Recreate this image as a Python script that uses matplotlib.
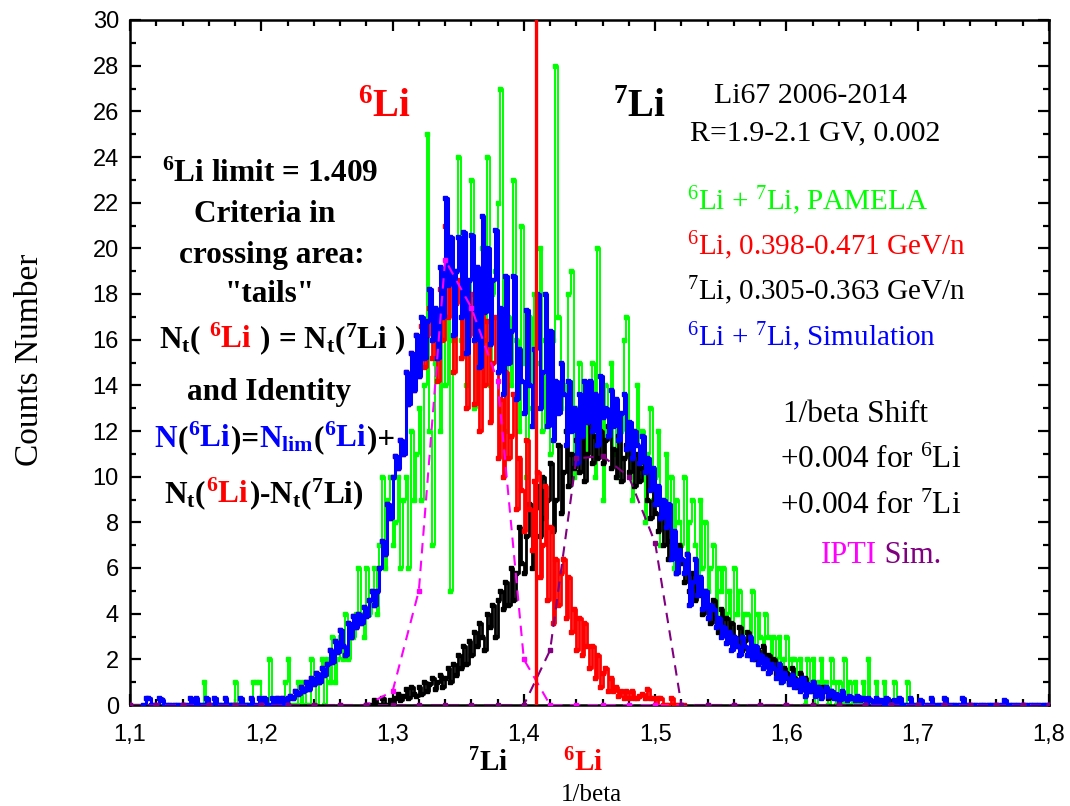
import numpy as np
import matplotlib
matplotlib.use("Agg")
import matplotlib.pyplot as plt
from matplotlib.ticker import MultipleLocator, FuncFormatter
from matplotlib.transforms import IdentityTransform

plt.rcParams['mathtext.fontset'] = 'custom'
plt.rcParams['mathtext.rm'] = 'Liberation Serif'
plt.rcParams['mathtext.default'] = 'regular'

# ---- data: counts per 1/beta bin (bin width 0.002) ----
bin_w = 0.002

green_start = 1.150   # 6Li + 7Li, PAMELA
green_counts = [
    0, 0, 0, 1, 0, 0, 0, 0, 0, 0,
    0, 0, 0, 0, 0, 1, 0, 0, 0, 0,
    0, 0, 1, 1, 1, 0, 0, 0, 2, 0,
    0, 0, 0, 0, 1, 2, 0, 0, 0, 1,
    0, 1, 0, 0, 2, 1, 0, 1, 2, 0,
    2, 1, 3, 1, 2, 3, 2, 4, 2, 3,
    3, 4, 6, 4, 3, 6, 4, 5, 6, 4,
    7, 10, 6, 9, 10, 7, 8, 10, 6, 9,
    10, 6, 12, 9, 11, 13, 9, 14, 25, 12,
    7, 15, 16, 12, 18, 14, 17, 5, 16, 19,
    24, 16, 19, 14, 17, 23, 13, 18, 15, 20,
    16, 24, 14, 18, 19, 22, 27, 15, 12, 17,
    14, 23, 16, 12, 21, 15, 10, 17, 13, 18,
    15, 20, 12, 16, 14, 11, 16, 28, 17, 13,
    14, 12, 18, 19, 10, 13, 15, 12, 11, 14,
    12, 15, 10, 20, 13, 9, 14, 12, 15, 11,
    13, 10, 12, 16, 17, 11, 9, 12, 14, 10,
    12, 8, 11, 13, 9, 10, 12, 7, 9, 11,
    8, 10, 6, 9, 8, 7, 10, 6, 8, 9,
    7, 5, 9, 6, 8, 5, 6, 7, 4, 6,
    5, 6, 4, 5, 3, 6, 4, 5, 3, 4,
    4, 3, 5, 2, 4, 3, 2, 4, 3, 2,
    3, 2, 3, 1, 2, 3, 1, 2, 2, 1,
    2, 1, 0, 2, 1, 2, 0, 1, 2, 1,
    1, 0, 2, 1, 0, 1, 0, 2, 0, 1,
    0, 1, 0, 0, 1, 0, 2, 0, 0, 1,
    0, 0, 1, 0, 0, 0, 1, 0, 0, 0,
    0, 1, 0, 0, 0,
]

red_start = 1.210     # 6Li simulation
red_counts = [
    0, 0.3, 0, 0.3, 0, 0.3, 0.4, 0.3, 0.6, 0.5,
    0.8, 0.6, 1.0, 0.7, 1.2, 0.9, 1.4, 1.0, 1.6, 1.3,
    1.8, 2.4, 1.9, 2.8, 2.3, 3.3, 2.6, 2.2, 3.6, 3.0,
    3.9, 3.4, 4.0, 3.6, 4.3, 3.9, 4.6, 5.0, 4.4, 5.0,
    6.0, 7.2, 6.6, 8.8, 8.2, 10.0, 10.9, 10.4, 11.6, 11.0,
    14.6, 13.2, 15.4, 13.8, 16.2, 14.4, 16.6, 14.8, 16.2, 17.4,
    15.2, 16.6, 14.2, 18.2, 16.0, 21.0, 17.0, 19.0, 14.6, 17.6,
    18.6, 15.2, 18.5, 13.0, 16.2, 18.0, 13.2, 16.4, 12.0, 18.0,
    14.0, 16.8, 12.4, 15.0, 17.0, 10.8, 13.4, 10.0, 14.6, 10.8,
    11.8, 13.6, 8.6, 10.8, 9.4, 7.6, 11.6, 8.6, 6.8, 9.8,
    10.2, 5.6, 7.0, 9.6, 4.6, 7.8, 3.6, 6.4, 4.4, 5.8,
    6.4, 3.8, 5.6, 3.2, 4.2, 2.4, 3.8, 2.2, 3.6, 2.6,
    1.6, 2.6, 1.2, 2.2, 0.8, 1.4, 1.6, 0.6, 1.2, 0.6,
    0.8, 0.4, 0.6, 0.3, 0.6, 0.3, 0.6, 0.3, 0.3, 0.4,
    0.5, 0.3, 0.7, 0.3, 0.3, 0, 0.3, 0.3, 0, 0,
    0, 0.3, 0, 0, 0, 0,
]

black_start = 1.280   # 7Li simulation
black_counts = [
    0, 0, 0, 0.2, 0, 0, 0.3, 0, 0, 0.2,
    0, 0.3, 0.5, 0.2, 0.4, 0.7, 0.3, 0.8, 0.5, 0.4,
    0.8, 0.5, 1.0, 0.6, 0.9, 1.2, 0.7, 1.0, 1.3, 0.8,
    1.2, 1.6, 1.0, 1.8, 1.3, 2.2, 1.6, 2.6, 1.8, 2.8,
    2.2, 3.2, 2.6, 3.6, 3.0, 2.4, 4.0, 3.4, 4.4, 3.0,
    4.6, 5.0, 4.2, 5.4, 4.4, 6.0, 4.6, 5.8, 7.8, 6.2,
    5.8, 7.4, 8.8, 6.0, 8.6, 9.6, 7.4, 10.0, 8.2, 9.0,
    10.6, 7.6, 9.0, 11.4, 8.4, 10.2, 12.0, 9.6, 11.0, 10.4,
    11.6, 10.2, 12.2, 9.8, 11.0, 12.4, 10.6, 11.8, 10.8, 12.0,
    10.6, 11.6, 12.2, 10.4, 11.2, 10.0, 11.8, 9.8, 10.8, 11.4,
    10.2, 10.8, 9.6, 11.0, 9.8, 10.4, 10.6, 9.0, 8.2, 9.6,
    8.4, 7.6, 8.8, 7.0, 7.8, 6.4, 7.2, 6.6, 5.8, 7.0,
    6.2, 5.4, 6.6, 5.0, 5.8, 4.6, 5.2, 4.8, 4.0, 5.0,
    4.4, 3.6, 4.6, 3.8, 3.2, 4.2, 3.4, 3.8, 2.8, 3.6,
    3.0, 2.6, 3.4, 2.4, 2.8, 3.2, 2.2, 2.6, 2.0, 2.4,
    2.0, 2.6, 1.8, 2.2, 1.6, 2.0, 1.4, 1.8, 1.2, 1.6,
    1.4, 1.0, 1.6, 1.2, 0.8, 1.4, 1.0, 1.2, 0.8, 0.6,
    1.0, 0.6, 0.8, 0.4, 0.8, 0.6, 0.3, 0.6, 0.4, 0.3,
]

blue_start = 1.110    # 6Li + 7Li simulation
blue_counts = [
    0, 0.3, 0.3, 0, 0, 0, 0.3, 0.2, 0, 0,
    0, 0, 0, 0, 0, 0, 0, 0, 0.3, 0,
    0.3, 0, 0, 0, 0.3, 0, 0, 0.3, 0, 0,
    0, 0.3, 0, 0, 0, 0, 0, 0.3, 0, 0,
    0, 0.3, 0, 0, 0.3, 0, 0.3, 0, 0, 0.3,
    0, 0.3, 0, 0.3, 0, 0.3, 0.4, 0.3, 0.6, 0.5,
    0.8, 0.6, 1.0, 0.7, 1.2, 0.9, 1.4, 1.0, 1.6, 1.3,
    1.8, 2.4, 1.9, 2.8, 2.3, 3.3, 2.6, 2.2, 3.6, 3.0,
    3.9, 3.4, 4.0, 3.6, 4.3, 3.9, 4.6, 5.0, 4.4, 5.0,
    6.0, 7.2, 6.6, 8.8, 8.2, 10.0, 10.9, 10.4, 11.6, 11.0,
    14.6, 13.2, 15.4, 13.8, 16.2, 14.4, 17.0, 15.2, 16.8, 18.2,
    16.0, 17.4, 15.2, 19.2, 17.0, 22.2, 18.4, 20.5, 16.2, 19.0,
    20.5, 17.0, 20.7, 15.4, 18.6, 20.6, 16.0, 19.2, 14.8, 21.4,
    17.2, 20.0, 15.8, 18.6, 20.8, 14.6, 17.4, 13.6, 18.8, 15.0,
    16.4, 18.8, 13.4, 15.6, 14.2, 12.8, 17.3, 14.0, 12.2, 15.6,
    18.0, 13.0, 14.6, 18.0, 12.2, 16.4, 11.6, 14.2, 12.8, 15.0,
    13.6, 11.4, 14.2, 12.0, 13.0, 10.6, 13.6, 11.8, 14.2, 12.4,
    14.2, 12.0, 13.6, 11.4, 14.4, 12.6, 13.0, 11.8, 13.8, 12.2,
    13.4, 11.6, 12.8, 13.6, 11.2, 12.4, 10.8, 12.0, 11.4, 10.6,
    11.8, 10.2, 10.8, 9.4, 10.4, 8.8, 9.6, 8.2, 9.0, 7.8,
    8.8, 6.4, 7.6, 5.8, 6.8, 6.4, 5.8, 6.6, 4.4, 5.4,
    6.4, 4.8, 5.6, 4.2, 5.0, 3.8, 4.4, 4.2, 3.4, 3.8,
    3.0, 3.4, 2.7, 3.2, 2.4, 3.0, 2.6, 2.2, 3.0, 2.6,
    2.2, 3.0, 2.0, 2.6, 1.8, 2.2, 1.6, 2.0, 1.4, 1.8,
    1.6, 1.2, 1.8, 1.0, 1.4, 1.2, 0.9, 1.3, 0.8, 1.1,
    0.6, 1.2, 0.4, 0.9, 0.6, 1.0, 0.4, 0.8, 0.3, 0.6,
    0.8, 0.4, 0.6, 0.3, 0.5, 0.2, 0.6, 0.3, 0.2, 0.4,
    0.3, 0.2, 0.4, 0.2, 0.3, 0, 0.3, 0.2, 0, 0.3,
    0, 0.2, 0, 0.3, 0, 0, 0.2, 0, 0.3, 0,
    0, 0, 0.3, 0, 0, 0, 0.2, 0, 0, 0,
    0.3, 0, 0, 0, 0, 0.3, 0, 0, 0, 0,
    0, 0, 0.3, 0, 0, 0, 0, 0, 0, 0,
    0, 0, 0, 0, 0, 0, 0, 0, 0.2, 0,
    0, 0, 0, 0, 0, 0, 0, 0, 0, 0,
    0, 0, 0, 0, 0,
]

# IPTI simulation curves (points every 0.02)
ipti_x = [1.10, 1.12, 1.14, 1.16, 1.18, 1.20, 1.22, 1.24, 1.26, 1.28,
          1.30, 1.32, 1.34, 1.36, 1.38, 1.40, 1.42, 1.44, 1.46, 1.48,
          1.50, 1.52, 1.54, 1.56, 1.58, 1.60, 1.62, 1.64, 1.66, 1.68,
          1.70, 1.72, 1.74, 1.76, 1.78, 1.80]
ipti_li6 = [0, 0, 0, 0, 0, 0, 0, 0, 0, 0,
            0.6, 5.0, 19.5, 17.4, 14.2, 2.0, 0, 0, 0, 0,
            0, 0, 0, 0, 0, 0, 0, 0, 0, 0,
            0, 0, 0, 0, 0, 0]
ipti_li7 = [0, 0, 0, 0, 0, 0, 0, 0, 0, 0,
            0, 0, 0, 0, 0, 0, 2.4, 10.8, 10.9, 10.0,
            7.1, 0, 0, 0, 0, 0, 0, 0, 0, 0,
            0, 0, 0, 0, 0, 0]

li6_limit = 1.409

GREEN = '#00ff00'
RED = '#ff0000'
BLUE = '#0000ff'
MAGENTA = '#ff00ff'
PURPLE = '#800080'

fig = plt.figure(figsize=(10.7, 8.06), dpi=100)
ax = fig.add_axes([130 / 1070, 1 - 705 / 806, 919 / 1070, 685 / 806])


def hist_line(start, counts, color, lw, ms, z):
    x = start + bin_w * np.arange(len(counts) + 1)
    y = np.append(counts, 0)
    ax.plot(x, y, drawstyle='steps-post', color=color, lw=lw,
            marker='s', ms=ms, zorder=z)


hist_line(green_start, green_counts, GREEN, 1.4, 2.5, 2)
hist_line(black_start, black_counts, 'black', 2.0, 3, 3)
hist_line(red_start, red_counts, RED, 2.0, 3, 4)
hist_line(blue_start, blue_counts, BLUE, 2.2, 3, 5)

ax.plot(ipti_x, ipti_li6, color=MAGENTA, lw=1.5, ls=(0, (5, 3.5)),
        marker='s', ms=3.5, zorder=6)
ax.plot(ipti_x, ipti_li7, color=PURPLE, lw=1.5, ls=(0, (5, 3.5)),
        marker='s', ms=3.5, zorder=6)

ax.axvline(li6_limit, color=RED, lw=2.4, zorder=7)

ax.set_xlim(1.1, 1.8)
ax.set_ylim(0, 30)
ax.xaxis.set_major_locator(MultipleLocator(0.1))
ax.xaxis.set_minor_locator(MultipleLocator(0.02))
ax.yaxis.set_major_locator(MultipleLocator(2))
ax.yaxis.set_minor_locator(MultipleLocator(1))
ax.xaxis.set_major_formatter(FuncFormatter(lambda v, p: f"{v:.1f}".replace('.', ',')))
ax.tick_params(which='both', direction='in', top=True, right=True, width=1.6)
ax.tick_params(which='major', length=8)
ax.tick_params(which='minor', length=4)
ax.tick_params(axis='x', pad=14, labelsize=17)
ax.tick_params(axis='y', pad=8, labelsize=17)
for lab in ax.get_xticklabels() + ax.get_yticklabels():
    lab.set_family('Liberation Sans')
for sp in ax.spines.values():
    sp.set_linewidth(1.8)

H = 806
renderer = fig.canvas.get_renderer()


def put_line(x, y, parts, size, weight='normal', ha='left'):
    objs = []
    for s, c in parts:
        t = fig.text(0, H - y, s, color=c, fontsize=size, fontweight=weight,
                     family='Liberation Serif', transform=IdentityTransform(),
                     va='baseline', ha='left')
        objs.append(t)
    widths = [t.get_window_extent(renderer).width for t in objs]
    x0 = x - sum(widths) / 2 if ha == 'center' else x
    for t, w in zip(objs, widths):
        t.set_x(x0)
        x0 += w


K = 'black'
# big isotope labels
put_line(358, 117, [("$^{6}$Li", RED)], 28, 'bold')
put_line(613, 117, [("$^{7}$Li", K)], 28, 'bold')

# left bold block
fs = 22.5
put_line(270, 182, [("$^{6}$Li limit = 1.409", K)], fs, 'bold', 'center')
put_line(265, 222, [("Criteria in", K)], fs, 'bold', 'center')
put_line(272, 263, [("crossing area:", K)], fs, 'bold', 'center')
put_line(270, 302, [('"tails"', K)], fs, 'bold', 'center')
put_line(282, 348, [("N$_{t}$(", K), (" $^{6}$Li", RED),
                    (" ) = N$_{t}$($^{7}$Li )", K)], fs, 'bold', 'center')
put_line(269, 400, [("and Identity", K)], fs, 'bold', 'center')
put_line(275, 447, [("N", BLUE), ("(", K), ("$^{6}$Li", BLUE), (")=", K),
                    ("N$_{lim}$", BLUE), ("(", K), ("$^{6}$Li", BLUE),
                    (")+", K)], fs, 'bold', 'center')
put_line(264, 503, [("N$_{t}$(", K), ("$^{6}$Li", RED),
                    (")-N$_{t}$($^{7}$Li)", K)], fs, 'bold', 'center')

# right text block
put_line(810, 103, [("Li67 2006-2014", K)], 21.5, 'normal', 'center')
put_line(815, 140, [("R=1.9-2.1 GV, 0.002", K)], 21.5, 'normal', 'center')
put_line(687, 210, [("$^{6}$Li + $^{7}$Li, PAMELA", GREEN)], 21)
put_line(687, 255, [("$^{6}$Li, 0.398-0.471 GeV/n", RED)], 21)
put_line(687, 300, [("$^{7}$Li, 0.305-0.363 GeV/n", K)], 21)
put_line(687, 346, [("$^{6}$Li + $^{7}$Li, Simulation", BLUE)], 21)
put_line(783, 422, [("1/beta Shift", K)], 22.5)
put_line(780, 468, [("+0.004 for $^{6}$Li", K)], 22.5)
put_line(780, 514, [("+0.004 for $^{7}$Li", K)], 22.5)
put_line(821, 563, [("IPTI", MAGENTA), (" Sim.", PURPLE)], 22)

# labels below the x axis
put_line(468, 771, [("$^{7}$Li", K)], 21, 'bold')
put_line(563, 771, [("$^{6}$Li", RED)], 21, 'bold')
put_line(591, 801, [("1/beta", K)], 18, 'normal', 'center')
fig.text(30, H - 360, "Counts Number", fontsize=24, family='Liberation Serif',
         rotation=90, ha='center', va='center', transform=IdentityTransform())

fig.savefig("out.png", dpi=100)
